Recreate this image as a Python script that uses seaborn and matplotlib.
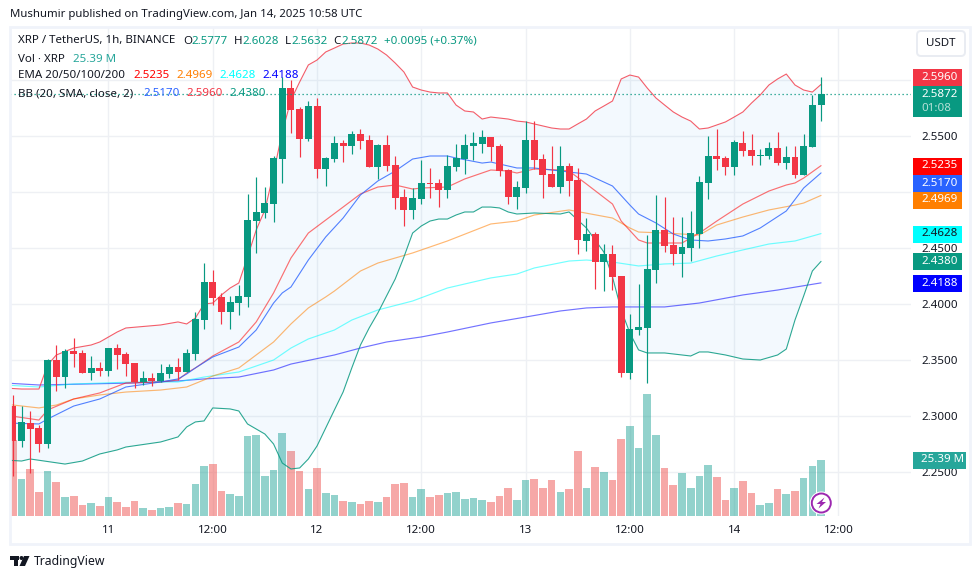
import matplotlib
matplotlib.use("Agg")
import matplotlib.pyplot as plt
from matplotlib.patches import Rectangle, Circle, Polygon, FancyBboxPatch
from matplotlib.transforms import IdentityTransform
import numpy as np
import pandas as pd
import seaborn as sns

W, H = 980, 579

# Candles (1h), Jan 10 13:00 onwards
open_ = [2.3088, 2.2776, 2.2936, 2.2892, 2.2749, 2.3499, 2.3347, 2.3580, 2.3562, 2.3383, 2.3428, 2.3401, 2.3606, 2.3553, 2.3472, 2.3303,
         2.3338, 2.3312, 2.3374, 2.3437, 2.3392, 2.3553, 2.3856, 2.4196, 2.4062, 2.3928, 2.4008, 2.4062, 2.4740, 2.4812, 2.4892, 2.5294,
         2.5928, 2.5741, 2.5473, 2.5767, 2.5205, 2.5294, 2.5437, 2.5410, 2.5517, 2.5464, 2.5223, 2.5419, 2.5241, 2.4955, 2.4839, 2.4937,
         2.5080, 2.5080, 2.5017, 2.5223, 2.5294, 2.5410, 2.5428, 2.5491, 2.5410, 2.5196, 2.4955, 2.5035, 2.5464, 2.5294, 2.5160, 2.5044,
         2.5232, 2.5107, 2.4562, 2.4624, 2.4374, 2.4446, 2.4249, 2.3383, 2.3767, 2.3785, 2.4303, 2.4660, 2.4526, 2.4446, 2.4499, 2.4624,
         2.5080, 2.5321, 2.5303, 2.5223, 2.5437, 2.5375, 2.5321, 2.5321, 2.5393, 2.5258, 2.5312, 2.5151, 2.5401, 2.5777]
close = [2.2776, 2.2945, 2.2883, 2.2749, 2.3499, 2.3347, 2.3580, 2.3553, 2.3383, 2.3428, 2.3401, 2.3606, 2.3544, 2.3463, 2.3303, 2.3338,
         2.3312, 2.3383, 2.3437, 2.3392, 2.3562, 2.3865, 2.4196, 2.4053, 2.3928, 2.4017, 2.4071, 2.4749, 2.4821, 2.4901, 2.5303, 2.5928,
         2.5732, 2.5473, 2.5767, 2.5205, 2.5303, 2.5437, 2.5410, 2.5517, 2.5455, 2.5223, 2.5419, 2.5232, 2.4946, 2.4839, 2.4946, 2.5080,
         2.5071, 2.5017, 2.5232, 2.5303, 2.5419, 2.5437, 2.5491, 2.5401, 2.5187, 2.4955, 2.5044, 2.5464, 2.5285, 2.5151, 2.5044, 2.5232,
         2.5098, 2.4571, 2.4624, 2.4374, 2.4446, 2.4240, 2.3383, 2.3776, 2.3794, 2.4312, 2.4660, 2.4517, 2.4446, 2.4508, 2.4633, 2.5089,
         2.5321, 2.5294, 2.5223, 2.5446, 2.5366, 2.5321, 2.5330, 2.5393, 2.5258, 2.5312, 2.5151, 2.5410, 2.5776, 2.5872]
high = [2.3187, 2.3088, 2.3044, 2.2919, 2.3508, 2.3633, 2.3597, 2.3696, 2.3589, 2.3535, 2.3481, 2.3606, 2.3642, 2.3571, 2.3472, 2.3401,
        2.3383, 2.3463, 2.3463, 2.3517, 2.3597, 2.3928, 2.4365, 2.4303, 2.4098, 2.4071, 2.4169, 2.4982, 2.5133, 2.5044, 2.5321, 2.6026,
        2.5999, 2.5758, 2.5812, 2.5839, 2.5312, 2.5500, 2.5464, 2.5544, 2.5562, 2.5508, 2.5428, 2.5508, 2.5321, 2.5026, 2.5035, 2.5285,
        2.5214, 2.5116, 2.5330, 2.5428, 2.5517, 2.5535, 2.5553, 2.5491, 2.5428, 2.5205, 2.5098, 2.5634, 2.5634, 2.5339, 2.5410, 2.5410,
        2.5258, 2.5214, 2.4767, 2.4642, 2.4535, 2.4526, 2.4249, 2.3910, 2.4178, 2.4615, 2.4973, 2.4955, 2.4776, 2.4776, 2.4830, 2.5142,
        2.5500, 2.5562, 2.5321, 2.5464, 2.5544, 2.5517, 2.5384, 2.5446, 2.5535, 2.5410, 2.5410, 2.5517, 2.5866, 2.6028]
low = [2.2463, 2.2722, 2.2490, 2.2678, 2.2713, 2.3222, 2.3249, 2.3437, 2.3383, 2.3321, 2.3356, 2.3356, 2.3419, 2.3356, 2.3249, 2.3276,
       2.3267, 2.3303, 2.3338, 2.3321, 2.3392, 2.3499, 2.3776, 2.3990, 2.3821, 2.3776, 2.3901, 2.3973, 2.4455, 2.4767, 2.4732, 2.5080,
       2.5526, 2.5312, 2.5455, 2.5124, 2.5053, 2.5267, 2.5267, 2.5339, 2.5384, 2.5223, 2.5116, 2.5187, 2.4848, 2.4696, 2.4758, 2.4892,
       2.4946, 2.4865, 2.4946, 2.5187, 2.5160, 2.5285, 2.5348, 2.5276, 2.5142, 2.4892, 2.4848, 2.4991, 2.5205, 2.4946, 2.5044, 2.4991,
       2.4964, 2.4446, 2.4473, 2.4133, 2.4115, 2.4124, 2.3347, 2.3330, 2.3722, 2.3294, 2.4187, 2.4464, 2.4348, 2.4240, 2.4383, 2.4499,
       2.4937, 2.5196, 2.5151, 2.5151, 2.5321, 2.5241, 2.5241, 2.5294, 2.5241, 2.5205, 2.5124, 2.5151, 2.5401, 2.5632]

# Volume, millions
volume = [34.5, 16.8, 21.3, 10.9, 20.4, 15.4, 8.6, 9.1, 5.0, 5.9, 4.5, 8.6, 6.3, 4.1, 6.8, 3.6, 2.7, 3.6, 4.1, 5.9, 5.4, 14.5, 22.7, 23.6,
          11.3, 10.0, 9.1, 36.3, 36.7, 18.1, 20.9, 37.6, 29.5, 20.4, 12.2, 21.8, 10.4, 9.5, 6.8, 6.3, 5.4, 6.8, 6.3, 8.6, 14.5, 15.0, 8.6, 12.2,
          8.6, 9.5, 10.4, 10.9, 7.7, 8.2, 7.3, 6.3, 9.1, 12.7, 7.3, 16.3, 16.8, 12.7, 16.3, 10.9, 12.2, 29.5, 12.7, 22.2, 20.0, 16.3, 34.9, 40.8,
          30.8, 55.3, 36.7, 21.8, 14.1, 19.5, 12.7, 18.1, 23.1, 17.7, 7.3, 12.7, 15.9, 10.4, 5.0, 5.9, 12.2, 10.0, 11.3, 17.2, 22.7, 25.39]

# Bollinger bands and EMAs, read at the candles listed in each *_i
bb_up_i = [-1, 1, 3, 4, 5, 7, 9, 10, 12, 13, 17, 19, 20, 21, 22, 23, 24, 25, 26, 27, 28, 29, 30, 31, 32, 33, 34, 35, 36, 37, 38, 39, 40, 41,
           42, 43, 44, 45, 46, 47, 48, 49, 50, 51, 52, 53, 54, 55, 56, 57, 58, 59, 60, 61, 62, 63, 64, 65, 66, 67, 68, 69, 70, 71, 72, 73, 74,
           75, 76, 77, 78, 79, 80, 81, 82, 83, 84, 85, 86, 87, 88, 89, 90, 91, 92, 93]
bb_up = [2.3249, 2.3240, 2.3240, 2.3455, 2.3544, 2.3606, 2.3633, 2.3660, 2.3749, 2.3785, 2.3812, 2.3839, 2.3821, 2.3874, 2.3999, 2.4008,
         2.4080, 2.4142, 2.4187, 2.4419, 2.4660, 2.4839, 2.5169, 2.5535, 2.5821, 2.5982, 2.6134, 2.6178, 2.6250, 2.6285, 2.6321, 2.6330,
         2.6330, 2.6312, 2.6276, 2.6223, 2.6151, 2.6071, 2.5937, 2.5910, 2.5892, 2.5884, 2.5884, 2.5776, 2.5723, 2.5714, 2.5651, 2.5669,
         2.5660, 2.5651, 2.5633, 2.5625, 2.5607, 2.5589, 2.5571, 2.5562, 2.5562, 2.5607, 2.5651, 2.5723, 2.5767, 2.5812, 2.6009, 2.6044,
         2.6026, 2.5928, 2.5839, 2.5776, 2.5714, 2.5669, 2.5633, 2.5562, 2.5571, 2.5598, 2.5625, 2.5669, 2.5714, 2.5794, 2.5866, 2.5955,
         2.6009, 2.6053, 2.5955, 2.5910, 2.5892, 2.5960]
bb_lo_i = [-1, 1, 2, 6, 8, 10, 12, 13, 17, 19, 20, 21, 22, 23, 25, 26, 27, 29, 30, 31, 32, 33, 34, 35, 36, 37, 38, 39, 40, 41, 42, 44, 45, 46,
           47, 48, 49, 50, 51, 52, 53, 54, 55, 56, 57, 58, 60, 63, 64, 66, 68, 69, 70, 71, 72, 73, 75, 78, 79, 80, 82, 84, 86, 88, 89, 90, 91, 92, 93]
bb_lo = [2.2606, 2.2597, 2.2615, 2.2570, 2.2597, 2.2660, 2.2696, 2.2722, 2.2767, 2.2812, 2.2901, 2.2946, 2.2955, 2.3071, 2.3062, 2.3044,
         2.2928, 2.2838, 2.2749, 2.2579, 2.2526, 2.2535, 2.2615, 2.2731, 2.2892, 2.3053, 2.3213, 2.3428, 2.3633, 2.3785, 2.3919, 2.4223,
         2.4419, 2.4633, 2.4696, 2.4740, 2.4758, 2.4758, 2.4794, 2.4821, 2.4821, 2.4865, 2.4865, 2.4857, 2.4821, 2.4803, 2.4812, 2.4803,
         2.4821, 2.4678, 2.4464, 2.4240, 2.3946, 2.3740, 2.3589, 2.3562, 2.3562, 2.3535, 2.3571, 2.3571, 2.3544, 2.3508, 2.3499, 2.3544,
         2.3597, 2.3856, 2.4071, 2.4294, 2.4380]
bb_mid_i = [-1, 3, 4, 7, 10, 13, 17, 19, 20, 21, 23, 26, 28, 30, 31, 32, 34, 36, 38, 40, 42, 44, 46, 48, 50, 51, 54, 55, 58, 60, 64, 66, 69, 71,
            72, 74, 76, 78, 80, 82, 84, 86, 89, 91, 93]
bb_mid = [2.2937, 2.2928, 2.2972, 2.3088, 2.3151, 2.3258, 2.3303, 2.3330, 2.3374, 2.3428, 2.3526, 2.3615, 2.3767, 2.4008, 2.4098, 2.4151,
          2.4392, 2.4598, 2.4767, 2.4973, 2.5098, 2.5187, 2.5294, 2.5321, 2.5321, 2.5303, 2.5258, 2.5267, 2.5214, 2.5214, 2.5178, 2.5160,
          2.5053, 2.4883, 2.4803, 2.4723, 2.4624, 2.4571, 2.4562, 2.4580, 2.4607, 2.4678, 2.4830, 2.5035, 2.5170]
ema20_i = [-1, 3, 4, 7, 10, 13, 17, 19, 20, 21, 23, 26, 28, 30, 32, 34, 36, 38, 40, 42, 44, 46, 47, 50, 52, 55, 57, 58, 60, 63, 64, 66, 69, 70, 72, 73,
           75, 77, 79, 81, 84, 87, 89, 90, 91, 93]
ema20 = [2.3008, 2.2963, 2.3053, 2.3151, 2.3205, 2.3294, 2.3303, 2.3321, 2.3383, 2.3428, 2.3535, 2.3660, 2.3839, 2.4098, 2.4410, 2.4633,
         2.4749, 2.4865, 2.4982, 2.5044, 2.5062, 2.5026, 2.5035, 2.5044, 2.5116, 2.5196, 2.5187, 2.5169, 2.5205, 2.5196, 2.5187, 2.5071,
         2.4892, 2.4740, 2.4571, 2.4544, 2.4544, 2.4544, 2.4633, 2.4740, 2.4892, 2.5008, 2.5062, 2.5080, 2.5124, 2.5235]
ema50_i = [-1, 3, 5, 7, 10, 13, 17, 20, 22, 23, 26, 28, 30, 32, 34, 36, 37, 40, 42, 46, 50, 55, 58, 60, 64, 69, 71, 72, 75, 79, 81, 84, 87, 90, 91, 93]
ema50 = [2.3106, 2.3071, 2.3097, 2.3151, 2.3187, 2.3213, 2.3231, 2.3258, 2.3321, 2.3356, 2.3428, 2.3544, 2.3660, 2.3821, 2.3964, 2.4062,
         2.4115, 2.4294, 2.4365, 2.4455, 2.4562, 2.4714, 2.4740, 2.4794, 2.4839, 2.4767, 2.4678, 2.4642, 2.4633, 2.4615, 2.4705, 2.4776,
         2.4839, 2.4883, 2.4901, 2.4969]
ema100_i = [-1, 3, 7, 14, 19, 22, 26, 30, 32, 34, 37, 39, 42, 46, 50, 55, 58, 60, 64, 66, 69, 72, 75, 78, 81, 84, 87, 90, 93]
ema100 = [2.3276, 2.3258, 2.3285, 2.3303, 2.3303, 2.3347, 2.3392, 2.3499, 2.3606, 2.3687, 2.3767, 2.3856, 2.3946, 2.4026, 2.4142, 2.4232,
          2.4267, 2.4321, 2.4383, 2.4392, 2.4374, 2.4339, 2.4357, 2.4365, 2.4428, 2.4482, 2.4535, 2.4562, 2.4628]
ema200_i = [-1, 3, 14, 19, 22, 26, 30, 32, 37, 40, 43, 47, 50, 55, 59, 63, 66, 69, 75, 79, 84, 88, 93]
ema200 = [2.3294, 2.3276, 2.3294, 2.3312, 2.3330, 2.3347, 2.3410, 2.3463, 2.3544, 2.3606, 2.3660, 2.3705, 2.3749, 2.3830, 2.3883, 2.3937,
          2.3964, 2.3973, 2.3973, 2.4008, 2.4080, 2.4124, 2.4188]

y_ticks = [2.25, 2.30, 2.35, 2.40, 2.45, 2.50, 2.55, 2.60]
y_labels = ["2.2500", "2.3000", "2.3500", "2.4000", "2.4500", "", "2.5500", ""]  # 2.5000 and 2.6000 sit behind the price tags
x_ticks = [11, 23, 35, 47, 59, 71, 83, 95]
x_labels = ["11", "12:00", "12", "12:00", "13", "12:00", "14", "12:00"]

GREEN = "#089981"
RED = "#F23645"
TEXT = "#131722"
BORDER = "#F0F3FA"
GRID = "#EEF0F4"

sns.set_theme(style="white")
plt.rcParams["font.family"] = ["Noto Sans", "DejaVu Sans"]
FS = 8.3

fig = plt.figure(figsize=(W / 100, H / 100), dpi=100, facecolor="white")
ax = fig.add_axes([10 / W, 1 - 516 / H, 901 / W, 489 / H])
vax = ax.twinx()
ax.set_ylim(2.2106, 2.6473)

df = pd.DataFrame({"i": np.arange(len(close)), "open": open_, "close": close, "high": high, "low": low, "vol": volume})
up = df["close"] >= df["open"]
colors = up.map({True: GREEN, False: RED})

# Grid goes on the volume axes so the bars sit over it
for t in x_ticks:
    vax.axvline(t, color=GRID, lw=1, zorder=0)
for v in y_ticks:
    vax.plot([0, 1], [v, v], transform=ax.get_yaxis_transform(), color=GRID, lw=1, zorder=0)

# Volume underneath
sns.barplot(data=df, x="i", y="vol", native_scale=True, width=0.88, saturation=1, color="#26A69A", alpha=0.5, ax=vax)
for bar, is_up in zip(vax.patches, up):
    bar.set_facecolor("#26A69A" if is_up else "#EF5350")
    bar.set_alpha(0.5)
    bar.set_linewidth(0)
vax.set_ylim(0, 221.7)
vax.set_yticks([])
vax.set_xlabel("")
vax.set_ylabel("")
vax.grid(False)
for s in vax.spines.values():
    s.set_visible(False)

ax.set_zorder(vax.get_zorder() + 1)
ax.patch.set_visible(False)

# Band fill, then lines
ax.fill(np.r_[bb_up_i, bb_lo_i[::-1]], np.r_[bb_up, bb_lo[::-1]], color="#2196F3", alpha=0.05, lw=0, zorder=1)
sns.lineplot(x=ema200_i, y=ema200, color="#0000FF", alpha=0.55, lw=0.85, ax=ax, zorder=2)
sns.lineplot(x=ema100_i, y=ema100, color="#00FFFF", alpha=0.55, lw=0.85, ax=ax, zorder=2)
sns.lineplot(x=ema50_i, y=ema50, color="#FF7F00", alpha=0.55, lw=0.85, ax=ax, zorder=2)
sns.lineplot(x=ema20_i, y=ema20, color="#FF0000", alpha=0.55, lw=0.85, ax=ax, zorder=2)
sns.lineplot(x=bb_mid_i, y=bb_mid, color="#2962FF", alpha=0.8, lw=0.8, ax=ax, zorder=2)
sns.lineplot(x=bb_up_i, y=bb_up, color=RED, alpha=0.8, lw=0.8, ax=ax, zorder=2)
sns.lineplot(x=bb_lo_i, y=bb_lo, color=GREEN, alpha=0.85, lw=0.8, ax=ax, zorder=2)

# Candles
ax.vlines(df["i"], df["low"], df["high"], colors=colors, lw=0.85, zorder=3)
ax.bar(df["i"], (df["close"] - df["open"]).abs(), bottom=df[["open", "close"]].min(axis=1), width=0.8,
       color=colors, lw=0, zorder=4)
ax.axhline(close[-1], color=GREEN, lw=0.9, ls=(0, (1, 2.2)), zorder=5)

ax.set_xlim(-0.33, 103.35)
ax.set_ylim(2.2106, 2.6473)
vax.set_xlim(-0.33, 103.35)
ax.set_xticks(x_ticks, x_labels)
ax.set_yticks(y_ticks, y_labels)
ax.yaxis.tick_right()
ax.tick_params(axis="both", length=0, labelsize=FS, colors=TEXT)
ax.tick_params(axis="y", pad=7.2)
ax.tick_params(axis="x", pad=6.6)
ax.grid(False)
ax.set_xlabel("")
ax.set_ylabel("")
for s in ax.spines.values():
    s.set_visible(False)


def px(x, y):
    return (x, H - y)


def add_patch(p):
    p.set_transform(IdentityTransform())
    p.set_zorder(6)
    fig.add_artist(p)


def label(x, y, s, color=TEXT, size=FS, ha="left", **kw):
    fig.text(x / W, 1 - y / H, s, color=color, fontsize=size, ha=ha, va="center", zorder=8, **kw)


def box(y0, y1, color, s=None, tcolor="white", x0=913, x1=962):
    add_patch(Rectangle(px(x0, y1), x1 - x0, y1 - y0, facecolor=color, lw=0))
    if s:
        label(921, (y0 + y1) / 2 - 0.5, s, color=tcolor)


# Chart frame
add_patch(Rectangle(px(10, 544), 960, 517, fill=False, edgecolor=BORDER, lw=2))

# Price scale tags
box(69, 86, RED, "2.5960")
box(86, 117, GREEN)
label(921, 94.5, "2.5872", color="white")
label(921, 108.5, "01:08", color="#B5E0D7")
box(158, 175, "#FF0000", "2.5235")
box(175, 192, "#2962FF", "2.5170")
box(192, 209, "#FF7F00", "2.4969")
box(226, 243, "#00FFFF", "2.4628", tcolor=TEXT)
box(253, 270, GREEN, "2.4380")
box(275, 292, "#0000FF", "2.4188")
box(452, 469, "#26A69A", "25.39 M", x1=966)

# Currency button
add_patch(FancyBboxPatch(px(917, 56), 48, 25, boxstyle="round,pad=0,rounding_size=4", facecolor="white",
                         edgecolor="#E9ECF2", lw=1.4))
label(941, 44, "USDT", ha="center")

# Header and legend
label(10, 15, "Mushumir published on TradingView.com, Jan 14, 2025 10:58 UTC", size=8.2)
label(18, 41, "XRP / TetherUS, 1h, BINANCE")
label(183, 41, "O")
label(191, 41, "2.5777", color=GREEN)
label(234, 41, "H")
label(242, 41, "2.6028", color=GREEN)
label(285, 41, "L")
label(291, 41, "2.5632", color=GREEN)
label(333, 41, "C")
label(341, 41, "2.5872", color=GREEN)
label(384, 41, "+0.0095 (+0.37%)", color=GREEN)
label(18, 59, "Vol · XRP")
label(73, 59, "25.39 M", color="#26A69A")
label(18, 76, "EMA 20/50/100/200")
label(133, 76, "2.5235", color="#FF0000")
label(176, 76, "2.4969", color="#FF7F00")
label(219, 76, "2.4628", color="#00FFFF")
label(262, 76, "2.4188", color="#0000FF")
label(18, 94, "BB (20, SMA, close, 2)")
label(143, 94, "2.5170", color="#2962FF")
label(186, 94, "2.5960", color=RED)
label(229, 94, "2.4380", color=GREEN)

# Alert bolt on the last bar
add_patch(Circle(px(821.3, 503), 11.5, facecolor="white", lw=0))
add_patch(Circle(px(821.3, 503), 9.5, facecolor="white", edgecolor="#9C27B0", lw=1.4))
add_patch(Polygon([px(824.5, 497.5), px(816.5, 504), px(820.5, 504), px(818.5, 508.5), px(826, 502), px(822, 502)],
                  closed=True, facecolor="#9C27B0", lw=0))

# TradingView mark
add_patch(Rectangle(px(10, 560), 9, 4, facecolor=TEXT, lw=0))
add_patch(Rectangle(px(14, 566), 4, 10, facecolor=TEXT, lw=0))
add_patch(Circle(px(21.5, 558), 2, facecolor=TEXT, lw=0))
add_patch(Polygon([px(24, 556), px(29.5, 556), px(25, 566), px(19.5, 566)], closed=True, facecolor=TEXT, lw=0))
label(34, 561, "TradingView", size=8.8)

fig.savefig("out.png", dpi=100, facecolor="white")
